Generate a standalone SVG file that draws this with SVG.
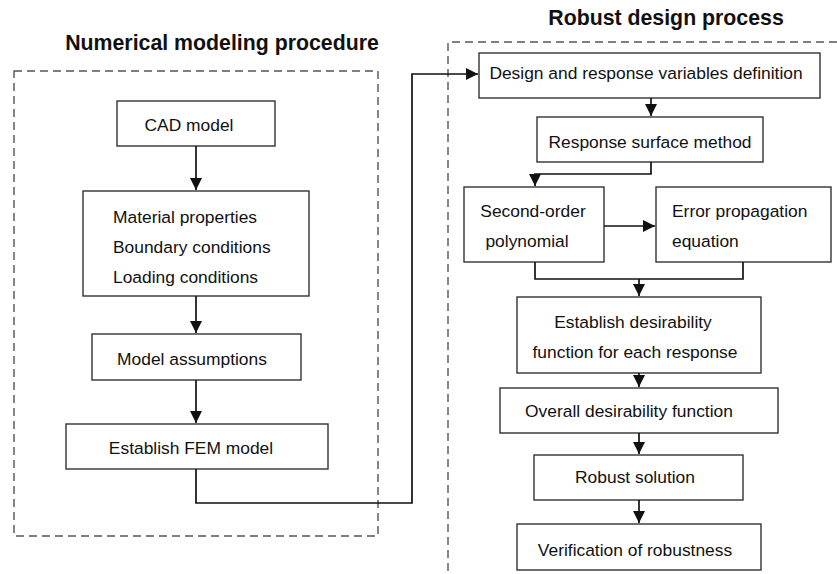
<svg xmlns="http://www.w3.org/2000/svg" width="837" height="574" viewBox="0 0 837 574">
  <style>
    .frame { fill: none; stroke: #555; stroke-width: 1.4; stroke-dasharray: 8 5; }
    .box { fill: #fff; stroke: #333; stroke-width: 1.4; }
    .txt { font-family: "Liberation Sans", Arial, sans-serif; font-size: 17.4px; fill: #111; }
    .title { font-family: "Liberation Sans", Arial, sans-serif; font-size: 21.3px; font-weight: bold; fill: #111; }
    .link { fill: none; stroke: #111; stroke-width: 1.7; }
  </style>
  <defs>
    <marker id="arrow" viewBox="0 0 12 12" refX="12" refY="6" markerWidth="12" markerHeight="12" markerUnits="userSpaceOnUse" orient="auto">
      <path d="M0,0 L12,6 L0,12 z" fill="#111"/>
    </marker>
  </defs>
  <rect width="837" height="574" fill="#fff"/>

  <!-- section frames -->
  <g id="numerical-frame">
    <rect class="frame" x="14" y="71" width="364" height="465"/>
    <text class="title" x="222" y="50" text-anchor="middle">Numerical modeling procedure</text>
  </g>
  <g id="robust-frame">
    <path class="frame" d="M837,42 H448 V574"/>
    <text class="title" x="666" y="25" text-anchor="middle">Robust design process</text>
  </g>

  <!-- left column -->
  <g id="cad">
    <rect class="box" x="117" y="101" width="158" height="45"/>
    <text class="txt" x="189" y="131" text-anchor="middle">CAD model</text>
  </g>
  <g id="conditions">
    <rect class="box" x="83" y="191" width="226" height="105"/>
    <text class="txt" x="113" y="223">Material properties</text>
    <text class="txt" x="113" y="253">Boundary conditions</text>
    <text class="txt" x="113" y="283">Loading conditions</text>
  </g>
  <g id="assumptions">
    <rect class="box" x="92" y="334" width="209" height="46"/>
    <text class="txt" x="192" y="365" text-anchor="middle">Model assumptions</text>
  </g>
  <g id="fem">
    <rect class="box" x="66" y="424" width="262" height="45"/>
    <text class="txt" x="191" y="454" text-anchor="middle">Establish FEM model</text>
  </g>

  <!-- right column -->
  <g id="variables">
    <rect class="box" x="479" y="53" width="341" height="45"/>
    <text class="txt" x="646" y="79" text-anchor="middle">Design and response variables definition</text>
  </g>
  <g id="rsm">
    <rect class="box" x="537" y="117" width="226" height="45"/>
    <text class="txt" x="650" y="148" text-anchor="middle">Response surface method</text>
  </g>
  <g id="polynomial">
    <rect class="box" x="464" y="187" width="140" height="75"/>
    <text class="txt" x="533" y="217" text-anchor="middle">Second-order</text>
    <text class="txt" x="527" y="247" text-anchor="middle">polynomial</text>
  </g>
  <g id="error">
    <rect class="box" x="656" y="187" width="175" height="75"/>
    <text class="txt" x="672" y="217">Error propagation</text>
    <text class="txt" x="672" y="247">equation</text>
  </g>
  <g id="desirability">
    <rect class="box" x="517" y="297" width="244" height="76"/>
    <text class="txt" x="633" y="328" text-anchor="middle">Establish desirability</text>
    <text class="txt" x="635" y="358" text-anchor="middle">function for each response</text>
  </g>
  <g id="overall">
    <rect class="box" x="500" y="388" width="278" height="45"/>
    <text class="txt" x="629" y="417" text-anchor="middle">Overall desirability function</text>
  </g>
  <g id="solution">
    <rect class="box" x="534" y="455" width="209" height="45"/>
    <text class="txt" x="635" y="483" text-anchor="middle">Robust solution</text>
  </g>
  <g id="verification">
    <rect class="box" x="517" y="524" width="244" height="46"/>
    <text class="txt" x="635" y="556" text-anchor="middle">Verification of robustness</text>
  </g>

  <!-- connectors -->
  <g id="connectors">
    <path class="link" d="M196,146 V190" marker-end="url(#arrow)"/>
    <path class="link" d="M196,296 V333" marker-end="url(#arrow)"/>
    <path class="link" d="M196,380 V423" marker-end="url(#arrow)"/>
    <path class="link" d="M196,469 V503 H412 V74 H478" stroke-width="2" marker-end="url(#arrow)"/>
    <path class="link" d="M651,98 V116" marker-end="url(#arrow)"/>
    <path class="link" d="M651,162 V174 H535 V186" marker-end="url(#arrow)"/>
    <path class="link" d="M604,226 H655" marker-end="url(#arrow)"/>
    <path class="link" d="M535,262 V279 H743 V262"/>
    <path class="link" d="M639,279 V296" marker-end="url(#arrow)"/>
    <path class="link" d="M639,373 V387" marker-end="url(#arrow)"/>
    <path class="link" d="M639,433 V454" marker-end="url(#arrow)"/>
    <path class="link" d="M639,500 V523" marker-end="url(#arrow)"/>
  </g>
</svg>
